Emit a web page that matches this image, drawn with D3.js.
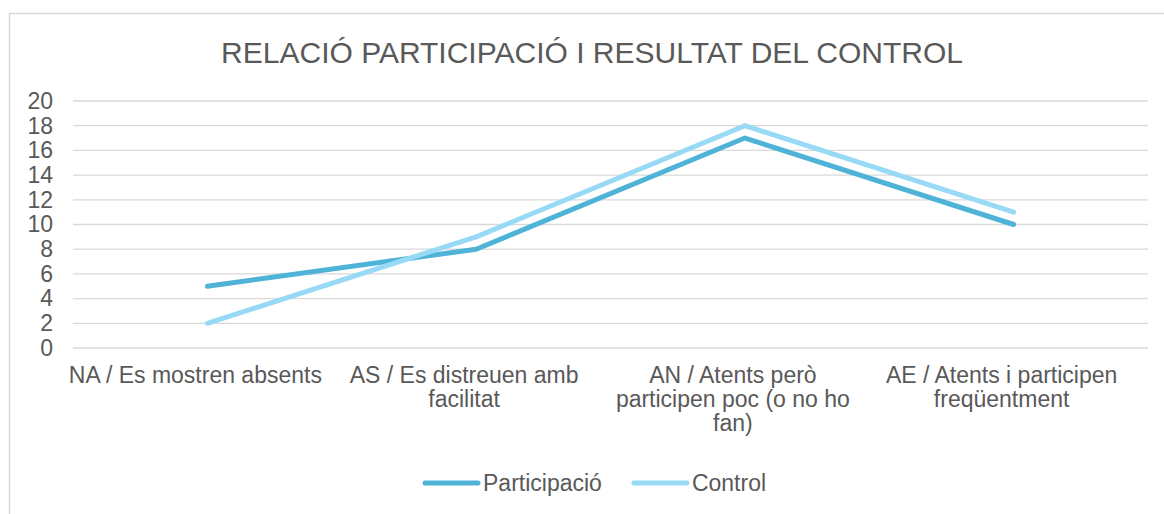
<!DOCTYPE html>
<html>
<head>
<meta charset="utf-8">
<script src="https://cdn.jsdelivr.net/npm/d3@7"></script>
<style>
  body { margin: 0; background: #fff; }
  text { font-family: "Liberation Sans", Arial, sans-serif; fill: #595959; }
</style>
</head>
<body>
<svg id="chart"></svg>
<script>
// chart values
const categories = [
    "NA / Es mostren absents",
    "AS / Es distreuen amb facilitat",
    "AN / Atents però participen poc (o no ho fan)",
    "AE / Atents i participen freqüentment"
];
const participacio = [5, 8, 17, 10];
const control = [2, 9, 18, 11];
const yTicks = [0, 2, 4, 6, 8, 10, 12, 14, 16, 18, 20];
const seriesNames = ["Participació", "Control"];
const seriesColors = ["#4fb3d8", "#98d9f5"];
const title = "RELACIÓ PARTICIPACIÓ I RESULTAT DEL CONTROL";

const width = 1164, height = 514;
const margin = { top: 101, right: 16, bottom: 166, left: 73 };
const chartWidth = width - margin.left - margin.right;
const chartHeight = height - margin.top - margin.bottom;

const svg = d3.select("#chart").attr("width", width).attr("height", height);

// outer frame
svg.append("rect")
    .attr("x", 9.5).attr("y", 13.5)
    .attr("width", width).attr("height", height)
    .attr("fill", "none").attr("stroke", "#d9d9d9").attr("stroke-width", 1.5);

svg.append("text")
    .attr("x", 592).attr("y", 63)
    .attr("text-anchor", "middle")
    .style("font-size", "30px")
    .text(title);

const x = d3.scaleBand().domain(categories).range([0, chartWidth]);
const y = d3.scaleLinear().domain([0, 20]).range([chartHeight, 0]);

const g = svg.append("g").attr("transform", `translate(${margin.left}, ${margin.top})`);

// gridlines
g.append("g")
    .selectAll("line")
    .data(yTicks)
    .join("line")
    .attr("x1", 0).attr("x2", chartWidth)
    .attr("y1", d => y(d)).attr("y2", d => y(d))
    .attr("stroke", "#d9d9d9").attr("stroke-width", 1.3);

// y axis labels
const yAxis = g.append("g")
    .attr("transform", "translate(-20,0)")
    .call(d3.axisLeft(y).tickValues(yTicks).tickSize(0).tickPadding(0));
yAxis.select(".domain").remove();
yAxis.selectAll("text")
    .attr("fill", "#595959")
    .style("font-size", "23px")
    .style("font-family", "'Liberation Sans', Arial, sans-serif");

// x axis labels
const xAxis = g.append("g")
    .attr("transform", `translate(-12, ${chartHeight})`)
    .call(d3.axisBottom(x).tickSize(0).tickPadding(0));
xAxis.select(".domain").remove();
xAxis.selectAll("text")
    .attr("fill", "#595959")
    .attr("dy", null)
    .style("font-size", "23px")
    .style("font-family", "'Liberation Sans', Arial, sans-serif")
    .call(wrap, x.bandwidth() - 10);

function wrap(texts, maxWidth) {
    texts.each(function () {
        const text = d3.select(this);
        const words = text.text().split(/\s+/);
        text.text(null);
        let line = [];
        let lineNo = 0;
        let tspan = text.append("tspan").attr("x", 0).attr("y", 35);
        words.forEach(word => {
            line.push(word);
            tspan.text(line.join(" "));
            if (tspan.node().getComputedTextLength() > maxWidth && line.length > 1) {
                line.pop();
                tspan.text(line.join(" "));
                line = [word];
                lineNo++;
                tspan = text.append("tspan").attr("x", 0).attr("y", 35 + lineNo * 24).text(word);
            }
        });
    });
}

// lines
const lineGen = d3.line()
    .x((d, i) => x(categories[i]) + x.bandwidth() / 2)
    .y(d => y(d));

[participacio, control].forEach((vals, i) => {
    g.append("path")
        .datum(vals)
        .attr("fill", "none")
        .attr("stroke", seriesColors[i])
        .attr("stroke-width", 5)
        .attr("stroke-linecap", "round")
        .attr("stroke-linejoin", "round")
        .attr("d", lineGen);
});

// legend
const legend = svg.append("g").attr("transform", "translate(423, 483)");
let offset = 0;
seriesNames.forEach((name, i) => {
    const item = legend.append("g").attr("transform", `translate(${offset}, 0)`);
    item.append("line")
        .attr("x1", 2).attr("x2", 55)
        .attr("stroke", seriesColors[i]).attr("stroke-width", 5)
        .attr("stroke-linecap", "round");
    const t = item.append("text")
        .attr("x", 60).attr("dy", "0.35em")
        .style("font-size", "23px")
        .text(name);
    offset += 60 + t.node().getComputedTextLength() + 30;
});
</script>
</body>
</html>
